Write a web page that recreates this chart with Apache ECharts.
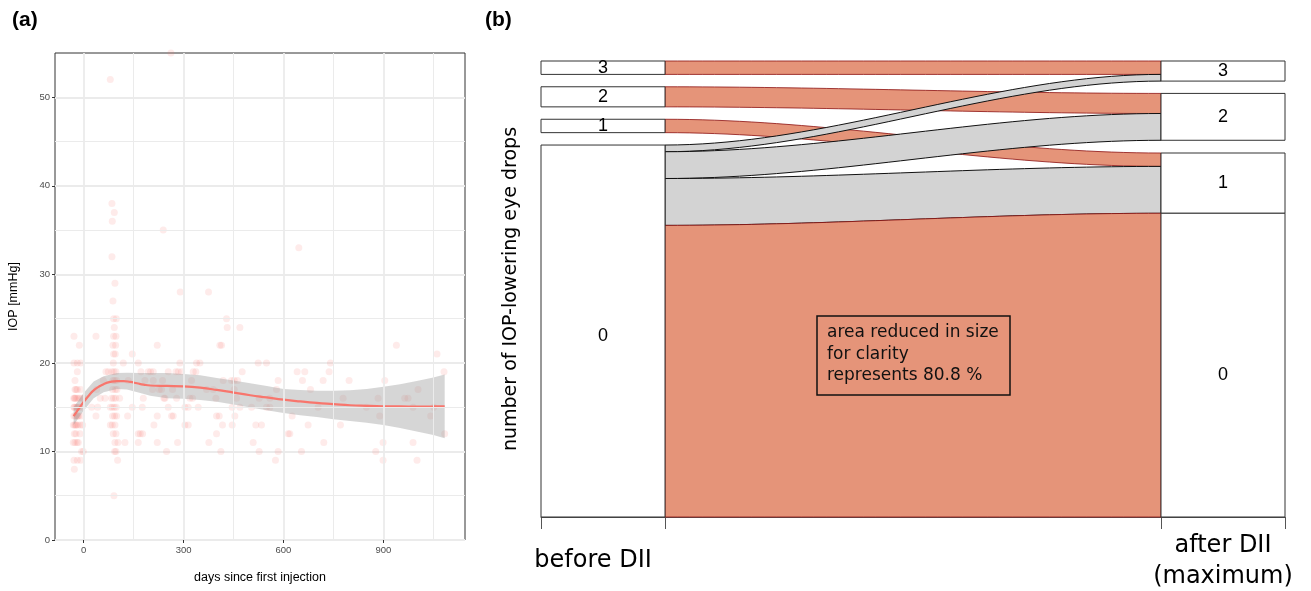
<!DOCTYPE html>
<html>
<head>
<meta charset="utf-8">
<script src="https://cdn.jsdelivr.net/npm/echarts@6/dist/echarts.min.js"></script>
<style>
html, body { margin: 0; padding: 0; background: #fff; }
#main { width: 1311px; height: 591px; }
</style>
</head>
<body>
<div id="main"></div>
<script>
var myChart = echarts.init(document.getElementById('main'));

// ---- (a) IOP over time
var iopDays = [
    -29, -13, -29, -19, -9, -19, -26, -26, -19, -9, -30, -26, -22, -17, -12, -5, 0, -28, -24, -19, -14, -6,
    -29, -25, -20, -15, -8, -31, -27, -22, -17, -9, -3, -28, -23, -11, -31, -26, -20, -16, -6, -1, -29, -19, -9, -28,
    -27, -21, -24, -18, -29, -23,
    37, 24, 42, 37, 39, 59, 67, 74, 64, 50,
    80, 85, 92, 86, 85, 94, 88, 90, 98, 92, 90, 97, 88, 96, 90, 95, 89, 91, 85, 97, 99, 88, 93, 87, 95, 100,
    84, 90, 96, 108, 80, 86, 92, 98, 87, 93, 99, 80, 86, 94, 89, 97, 94, 103, 93, 97, 102, 91,
    119, 146, 134, 132, 124, 146, 164, 172, 164, 170, 177, 164, 176, 179, 184, 194, 201, 209, 209, 207, 221, 221,
    211, 221, 227, 234, 237, 241, 244, 239, 262, 254, 254, 249, 264, 269, 267, 277, 284, 279, 282, 289, 294, 290,
    304, 314, 304, 314, 319, 327, 324, 329, 337, 339, 349, 344, 375, 376, 369, 389, 397, 399, 399, 407, 409, 414,
    412, 417, 419, 429, 431, 469, 444, 452, 462, 446, 446, 454, 452, 459, 469, 476, 504, 509, 517, 534, 524, 549,
    527, 527, 549, 559, 559, 576, 579, 584, 584, 614, 619, 626, 641, 646, 657, 664, 654, 674, 681, 704, 719, 721,
    737, 741, 771, 779, 797, 849, 877, 884, 889, 899, 899, 904, 939, 964, 974, 989, 989, 1001, 1004, 1042, 1051,
    1061, 1082, 1084
];
var iopValues = [
    23, 22, 20, 20, 20, 19, 18, 17, 17, 17, 16, 16, 16, 16, 16, 16, 16, 15, 15, 15, 15, 15,
    14, 14, 14, 14, 14, 13, 13, 13, 13, 13, 13, 12, 12, 12, 11, 11, 11, 11, 10, 10, 9, 9, 9, 8,
    16, 15, 13, 14, 15, 17,
    23, 15, 15, 14, 17, 18, 19, 19, 16, 16,
    52, 38, 37, 36, 32, 29, 27, 25, 25, 24, 23, 23, 22, 22, 21, 21, 20, 19, 19, 19, 18, 18, 18, 17, 17, 17,
    16, 16, 16, 16, 15, 15, 15, 15, 14, 14, 14, 13, 13, 13, 12, 12, 11, 11, 10, 10, 9, 5,
    20, 21, 18, 14, 11, 15, 20, 19, 12, 12, 12, 11, 15, 16, 18, 19, 19, 19, 18, 17, 22, 14,
    13, 11, 17, 17, 18, 16, 16, 35, 55, 19, 15, 10, 14, 14, 17, 19, 19, 16, 11, 20, 19, 28,
    15, 15, 13, 13, 16, 16, 18, 19, 19, 20, 20, 15, 28, 11, 17, 17, 16, 12, 14, 14, 22, 22,
    10, 13, 18, 25, 24, 24, 18, 18, 18, 15, 13, 14, 17, 16, 15, 19, 15, 11, 13, 13, 20, 20,
    16, 10, 15, 15, 16, 9, 17, 18, 10, 12, 12, 14, 19, 33, 18, 19, 10, 13, 17, 15, 18, 11,
    19, 20, 13, 16, 18, 15, 10, 16, 14, 11, 9, 18, 22, 16, 16, 11, 15, 9, 17, 14, 15,
    21, 19, 12
];

// loess fit and its confidence band
var smoothDays = [-30, -15, 0, 15, 30, 45, 60, 80, 100, 120, 140, 160, 180, 200, 250, 300, 350, 400, 450, 500,
    550, 600, 650, 700, 750, 800, 850, 900, 950, 1000, 1050, 1084];
var smoothIop = [14.0, 14.8, 15.6, 16.3, 16.9, 17.3, 17.6, 17.85, 17.95, 17.95, 17.85, 17.7, 17.55, 17.45, 17.4,
    17.35, 17.2, 16.95, 16.65, 16.35, 16.1, 15.85, 15.65, 15.48, 15.35, 15.22, 15.15, 15.1, 15.08, 15.07, 15.08, 15.1];
var bandDays = [-30, 0, 30, 60, 100, 130, 170, 200, 250, 300, 350, 400, 450, 500, 550, 600, 650, 700, 750, 800,
    850, 900, 950, 1000, 1050, 1084];
var bandLow = [13.0, 14.6, 16.0, 16.7, 17.05, 17.0, 16.6, 16.3, 16.0, 15.95, 15.8, 15.6, 15.3, 14.95, 14.65, 14.35,
    14.1, 13.9, 13.65, 13.45, 13.25, 13.0, 12.65, 12.25, 11.85, 11.5];
var bandHigh = [15.0, 16.6, 17.9, 18.5, 18.85, 18.9, 18.85, 18.85, 18.85, 18.75, 18.6, 18.3, 18.0, 17.7, 17.4, 17.05,
    16.95, 16.85, 16.85, 16.9, 17.05, 17.3, 17.6, 17.95, 18.35, 18.7];

// tick positions
var majorX = [0, 300, 600, 900];
var majorY = [0, 10, 20, 30, 40, 50];
var minorX = [150, 450, 750, 1050];
var minorY = [5, 15, 25, 35, 45];

// ---- (b) alluvial: number of eye drops before / after
var levels = [3, 2, 1, 0];               // top to bottom
var flowFrom = [3, 2, 1, 0, 0, 0, 0];
var flowTo = [3, 2, 1, 3, 2, 1, 0];
var flowN = [2, 3, 2, 1, 4, 7, 80];      // 0 -> 0 is drawn reduced (fills to the bottom)
var colLabels = ['before DII', 'after DII\n(maximum)'];
var noteText = 'area reduced in size\nfor clarity\nrepresents 80.8 %';

var TOP = 68.1;
var gapsLeft = [1.85, 1.85, 1.85];
var gapsRight = [1.84, 1.9, 0];

// stack a column from the top; the last node (0) runs down to the axis
function stackColumn(side, gaps) {
    var nodes = {}, fl = {};
    var y = TOP;
    levels.forEach(function (lv, li) {
        var ids = [];
        for (var i = 0; i < flowN.length; i++) {
            if ((side === 'L' ? flowFrom[i] : flowTo[i]) === lv) ids.push(i);
        }
        ids.sort(function (a, b) {
            var oa = side === 'L' ? flowTo[a] : flowFrom[a];
            var ob = side === 'L' ? flowTo[b] : flowFrom[b];
            return ob - oa;
        });
        var nTop = y;
        ids.forEach(function (i) {
            var h = (lv === 0 && flowTo[i] === 0 && flowFrom[i] === 0) ? y : flowN[i];
            fl[i] = { top: y, bot: y - h };
            y -= h;
        });
        nodes[lv] = { top: nTop, bot: y };
        if (li < gaps.length) y -= gaps[li];
    });
    return { nodes: nodes, flows: fl };
}
var colL = stackColumn('L', gapsLeft);
var colR = stackColumn('R', gapsRight);
var labelDy = { L0: 5, R0: 10 };

var nodeList = [];
levels.forEach(function (lv) { nodeList.push(['L', lv]); });
levels.forEach(function (lv) { nodeList.push(['R', lv]); });

function flowItem(params, api) {
    var i = params.dataIndex;
    var a = colL.flows[i], b = colR.flows[i];
    var top = [], bot = [];
    var n = 40;
    for (var k = 0; k <= n; k++) {
        var t = k / n, s = t * t * (3 - 2 * t);
        var x = 1 + 4 * t;
        top.push(api.coord([x, a.top + (b.top - a.top) * s]));
        bot.push(api.coord([x, a.bot + (b.bot - a.bot) * s]));
    }
    var same = flowFrom[i] === flowTo[i];
    return {
        type: 'polygon',
        shape: { points: top.concat(bot.reverse()) },
        style: {
            fill: same ? '#E59479' : '#D3D3D3',
            stroke: same ? '#8B1010' : '#111',
            lineWidth: same ? 0.8 : 1
        }
    };
}

function nodeItem(params, api) {
    var side = nodeList[params.dataIndex][0], lv = nodeList[params.dataIndex][1];
    var nd = (side === 'L' ? colL : colR).nodes[lv];
    var x0 = side === 'L' ? 0 : 5;
    var p0 = api.coord([x0, nd.top]);
    var p1 = api.coord([x0 + 1, nd.bot]);
    return {
        type: 'group',
        children: [{
            type: 'rect',
            shape: { x: p0[0], y: p0[1], width: p1[0] - p0[0], height: p1[1] - p0[1] },
            style: { fill: '#fff', stroke: '#333', lineWidth: 1 }
        }, {
            type: 'text',
            style: {
                text: String(lv),
                x: (p0[0] + p1[0]) / 2,
                y: (p0[1] + p1[1]) / 2 + (labelDy[side + lv] || 0),
                align: 'center',
                verticalAlign: 'middle',
                fontSize: 18,
                fontFamily: 'Liberation Sans',
                fill: '#000'
            }
        }]
    };
}

function bandItem(params, api) {
    var pts = [];
    for (var k = 0; k < bandDays.length; k++) pts.push(api.coord([bandDays[k], bandHigh[k]]));
    for (var k = bandDays.length - 1; k >= 0; k--) pts.push(api.coord([bandDays[k], bandLow[k]]));
    return { type: 'polygon', shape: { points: pts }, style: { fill: 'rgba(153,153,153,0.4)' } };
}

var gridLines = [];
majorX.forEach(function (v) { gridLines.push({ xAxis: v, lineStyle: { width: 1.8 } }); });
minorX.forEach(function (v) { gridLines.push({ xAxis: v, lineStyle: { width: 1 } }); });
minorY.forEach(function (v) { gridLines.push({ yAxis: v, lineStyle: { width: 1 } }); });

var tickFont = { fontSize: 9.5, fontFamily: 'Liberation Sans', color: '#4D4D4D' };

option = {
    animation: false,
    backgroundColor: '#fff',
    grid: [
        { left: 55, top: 53, width: 410, height: 487, show: true, borderColor: '#333', borderWidth: 1, outerBoundsMode: 'none' },
        { left: 541, top: 61, width: 744, height: 456, outerBoundsMode: 'none' }
    ],
    xAxis: [{
        gridIndex: 0,
        type: 'value',
        min: -86,
        max: 1145,
        name: 'days since first injection',
        nameLocation: 'middle',
        nameGap: 31,
        nameTextStyle: { fontSize: 12.5, fontFamily: 'Liberation Sans', color: '#000' },
        axisLine: { show: false, onZero: false },
        axisTick: { show: true, customValues: majorX, length: 3, lineStyle: { color: '#333' } },
        axisLabel: Object.assign({ customValues: majorX, margin: 5 }, tickFont),
        splitLine: { show: false }
    }, {
        gridIndex: 1,
        type: 'value',
        min: 0,
        max: 6,
        axisLine: { show: true, onZero: false, lineStyle: { color: '#555', width: 1 } },
        axisTick: { show: true, customValues: [0, 1, 5, 6], length: 12, lineStyle: { color: '#555' } },
        axisLabel: {
            customValues: [0.42, 5.5],
            formatter: function (v) { return v < 3 ? colLabels[0] : colLabels[1]; },
            fontSize: 24,
            lineHeight: 31,
            fontFamily: 'DejaVu Sans',
            color: '#000',
            verticalAlign: 'middle',
            margin: 44
        },
        splitLine: { show: false }
    }],
    yAxis: [{
        gridIndex: 0,
        type: 'value',
        min: 0,
        max: 55,
        interval: 10,
        name: 'IOP [mmHg]',
        nameLocation: 'middle',
        nameGap: 35,
        nameTextStyle: { fontSize: 12.5, fontFamily: 'Liberation Sans', color: '#000' },
        axisLine: { show: false, onZero: false },
        axisTick: { show: true, customValues: majorY, length: 3, lineStyle: { color: '#333' } },
        axisLabel: Object.assign({ customValues: majorY, margin: 5 }, tickFont),
        splitLine: { show: true, lineStyle: { color: '#EBEBEB', width: 1.8 } }
    }, {
        gridIndex: 1,
        type: 'value',
        min: 0,
        max: TOP,
        name: 'number of IOP-lowering eye drops',
        nameLocation: 'middle',
        nameGap: 20,
        nameTextStyle: { fontSize: 19, fontFamily: 'DejaVu Sans', color: '#000' },
        axisLine: { show: false, onZero: false },
        axisTick: { show: false },
        axisLabel: { show: false },
        splitLine: { show: false }
    }],
    series: [{
        type: 'scatter',
        xAxisIndex: 0,
        yAxisIndex: 0,
        z: 2,
        symbolSize: 7,
        itemStyle: { color: 'rgba(248,118,109,0.18)' },
        data: iopDays.map(function (d, i) { return [d, iopValues[i]]; }),
        markLine: {
            silent: true,
            symbol: ['none', 'none'],
            label: { show: false },
            lineStyle: { color: '#EBEBEB', type: 'solid' },
            data: gridLines
        }
    }, {
        type: 'custom',
        xAxisIndex: 0,
        yAxisIndex: 0,
        z: 3,
        renderItem: bandItem,
        data: [[bandDays[0], bandLow[0]]]
    }, {
        type: 'line',
        xAxisIndex: 0,
        yAxisIndex: 0,
        z: 4,
        smooth: true,
        showSymbol: false,
        lineStyle: { color: '#F8766D', width: 2.2 },
        data: smoothDays.map(function (d, i) { return [d, smoothIop[i]]; })
    }, {
        type: 'custom',
        xAxisIndex: 1,
        yAxisIndex: 1,
        z: 2,
        renderItem: flowItem,
        data: flowN.map(function (n) { return [3, 1]; })
    }, {
        type: 'custom',
        xAxisIndex: 1,
        yAxisIndex: 1,
        z: 3,
        renderItem: nodeItem,
        data: nodeList.map(function () { return [3, 1]; })
    }],
    graphic: [{
        type: 'text', left: 12, top: 10,
        style: { text: '(a)', font: 'bold 21px "Liberation Sans"', fill: '#000' }
    }, {
        type: 'text', left: 485, top: 10,
        style: { text: '(b)', font: 'bold 21px "Liberation Sans"', fill: '#000' }
    }, {
        type: 'rect', z: 10,
        shape: { x: 817, y: 316, width: 193, height: 79 },
        style: { fill: 'none', stroke: '#111', lineWidth: 1.5 }
    }, {
        type: 'text', z: 10, x: 827, y: 322,
        style: { text: noteText, font: '17px "DejaVu Sans"', lineHeight: 21.5, fill: '#111' }
    }]
};
myChart.setOption(option);
</script>
</body>
</html>
